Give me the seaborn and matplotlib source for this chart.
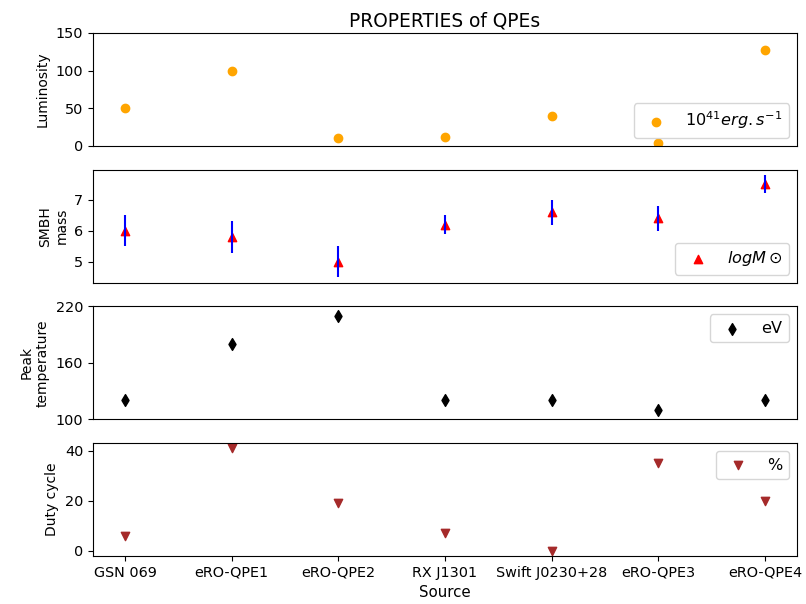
import matplotlib
matplotlib.use("Agg")
import matplotlib.pyplot as plt
import seaborn as sns
import numpy as np
import pandas as pd

sources = ["GSN 069", "eRO-QPE1", "eRO-QPE2", "RX J1301",
           "Swift J0230+28", "eRO-QPE3", "eRO-QPE4"]
luminosity = [50, 100, 10, 12, 40, 4, 127]          # 10^41 erg/s
bh_mass = [6.0, 5.8, 5.0, 6.2, 6.6, 6.4, 7.5]        # log M_sun
bh_mass_err = [0.5, 0.5, 0.5, 0.3, 0.4, 0.4, 0.3]
peak_temp = [120, 180, 210, 120, 120, 110, 120]      # eV
duty_cycle = [6, 41, 19, 7, 0, 35, 20]               # %

df = pd.DataFrame({
    "Source": sources,
    "Luminosity": luminosity,
    "Mass": bh_mass,
    "MassErr": bh_mass_err,
    "Temp": peak_temp,
    "Duty": duty_cycle,
})

plt.rcParams["font.family"] = ["DejaVu Sans"]
plt.rcParams["xtick.labelsize"] = 10.4
plt.rcParams["ytick.labelsize"] = 10.4
plt.rcParams["legend.fontsize"] = 11.6

fig, axes = plt.subplots(4, 1, figsize=(8.06, 6.04), dpi=100, sharex=True)
fig.subplots_adjust(left=0.1154, right=0.9888, top=0.9454, bottom=0.0795,
                    hspace=0.21)

ax1, ax2, ax3, ax4 = axes

# Luminosity
sns.scatterplot(data=df, x="Source", y="Luminosity", ax=ax1, color="orange",
                edgecolor="orange", linewidth=1, marker="o", s=36,
                label=r"$10^{41} erg.s^{-1}$")
ax1.set_ylim(0, 150)
ax1.set_yticks([0, 50, 100, 150])
ax1.set_ylabel("Luminosity")
ax1.set_title("PROPERTIES of QPEs", fontsize=13.4, pad=5)
ax1.legend(loc="lower right")

# SMBH mass with uncertainties
sns.scatterplot(data=df, x="Source", y="Mass", ax=ax2, color="red",
                edgecolor="red", linewidth=1, marker="^", s=36,
                label=r"$log M\odot$")
ax2.errorbar(df["Source"], df["Mass"], yerr=df["MassErr"], fmt="none",
             ecolor="blue", zorder=3)
ax2.set_ylabel("SMBH\nmass")
ax2.legend(loc="lower right")

# Peak temperature
sns.scatterplot(data=df, x="Source", y="Temp", ax=ax3, color="black",
                edgecolor="black", linewidth=1, marker="d", s=36, label="eV")
ax3.set_ylim(100, 220)
ax3.set_yticks([100, 160, 220])
ax3.set_ylabel("Peak\ntemperature")
ax3.legend(loc="upper right")

# Duty cycle
sns.scatterplot(data=df, x="Source", y="Duty", ax=ax4, color="brown",
                edgecolor="brown", linewidth=1, marker="v", s=36, label="%")
ax4.set_yticks([0, 20, 40])
ax4.set_ylabel("Duty cycle")
ax4.set_xlabel("Source", fontsize=10.8)
ax4.legend(loc="upper right")

for ax in (ax1, ax2, ax3):
    ax.tick_params(axis="x", bottom=False, labelbottom=False)
    ax.set_xlabel("")

fig.savefig("out.png", dpi=100)
